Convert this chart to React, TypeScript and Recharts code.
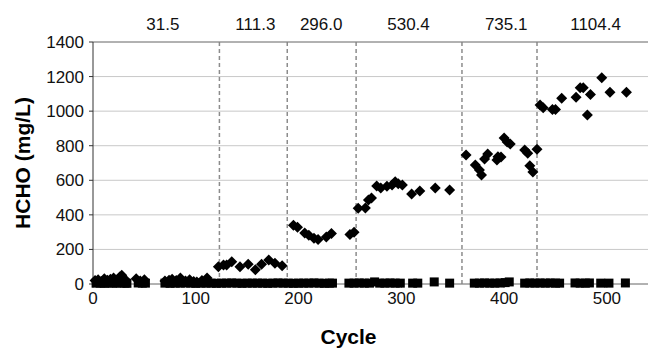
import { CartesianGrid, ReferenceLine, Scatter, ScatterChart, XAxis, YAxis } from 'recharts';

// influent HCHO (diamonds)
const influentCycle = [
  2, 5, 8, 11, 14, 17, 20, 23, 26, 28, 31, 42, 46, 50, 70, 74, 77, 81, 85, 90, 94, 98, 101, 106, 111,
  122, 127, 130, 135, 143, 151, 158, 164, 171, 177, 184,
  195, 199, 206, 210, 215, 219, 227, 232, 250, 254,
  258, 265, 268, 271, 276, 280, 286, 291, 294, 297, 301, 310, 318, 333, 347,
  363, 372, 376, 378, 381, 384, 393, 394, 397, 400, 403, 406, 420, 423, 425, 428, 432,
  435, 438, 447, 450, 456, 470, 474, 477, 481, 484, 495, 503, 519,
];
const influentHCHO = [
  20, 25, 15, 30, 22, 28, 35, 22, 40, 50, 28, 30, 18, 25, 18, 22, 28, 20, 35, 18, 24, 15, 12, 20, 35,
  100, 110, 110, 129, 100, 114, 83, 114, 139, 120, 106,
  340, 328, 295, 282, 265, 258, 272, 292, 287, 300,
  438, 440, 486, 497, 567, 555, 565, 573, 592, 580, 573, 520, 538, 555, 544,
  746, 688, 659, 630, 723, 752, 717, 736, 735, 844, 821, 810, 775, 757, 684, 648, 780,
  1035, 1020, 1010, 1010, 1074, 1080, 1136, 1136, 977, 1097, 1193, 1109, 1109,
];

// effluent HCHO (squares)
const effluentCycle = [
  3, 7, 11, 15, 19, 23, 27, 31, 33, 44, 48, 51,
  70, 75, 80, 85, 90, 95, 100, 105, 110, 115, 120, 125, 130, 135, 140, 145, 150, 155, 160, 165,
  170, 175, 180, 185, 190, 195, 200, 205, 210, 215, 220, 225, 230, 233,
  249, 254, 259, 264, 269, 274, 279, 284, 289, 294, 299, 311, 316, 332, 347,
  371, 376, 381, 386, 391, 396, 401, 405, 420, 425, 430, 435, 440, 445, 450, 454,
  469, 474, 479, 483, 494, 502, 518,
];
const effluentHCHO = [
  5, 5, 4, 6, 5, 5, 6, 5, 4, 6, 5, 5,
  5, 4, 5, 5, 6, 5, 4, 5, 5, 5, 4, 5, 5, 6, 5, 4, 5, 5, 5, 5,
  4, 5, 6, 5, 5, 4, 5, 5, 5, 6, 5, 4, 5, 5,
  5, 5, 6, 5, 5, 12, 5, 5, 6, 5, 5, 5, 5, 12, 5,
  5, 5, 6, 5, 5, 6, 8, 12, 5, 6, 5, 6, 5, 6, 5, 5,
  6, 5, 5, 6, 5, 5, 6,
];

const phaseBounds = [123, 189, 256, 359, 432];
const phaseLabelAt = [68, 158, 222, 307, 402, 489];
const phaseLabels = ['31.5', '111.3', '296.0', '530.4', '735.1', '1104.4'];
const xTicks = [0, 100, 200, 300, 400, 500];
const yTicks = [0, 200, 400, 600, 800, 1000, 1200, 1400];

const influent = influentCycle.map((c, i) => ({ cycle: c, hcho: influentHCHO[i] }));
const effluent = effluentCycle.map((c, i) => ({ cycle: c, hcho: effluentHCHO[i] }));

const font = '"Liberation Sans", Arial, sans-serif';

const Diamond = (props: any) => {
  const { cx, cy } = props;
  const r = 5.5;
  return <path d={`M${cx},${cy - r}L${cx + r},${cy}L${cx},${cy + r}L${cx - r},${cy}Z`} fill="#000" />;
};

const Square = (props: any) => {
  const { cx, cy } = props;
  const h = 4.5;
  return <rect x={cx - h} y={cy - h} width={h * 2} height={h * 2} fill="#000" />;
};

export default function App() {
  return (
    <div style={{ position: 'absolute', left: 0, top: 0, fontFamily: font }}>
      <ScatterChart width={648} height={350} margin={{ top: 12, right: 0, bottom: 0, left: 0 }}>
        <CartesianGrid vertical={false} stroke="#c8c8c8" />
        <XAxis
          dataKey="cycle"
          type="number"
          domain={[0, 540]}
          ticks={xTicks}
          interval={0}
          height={66}
          tickSize={4}
          tickMargin={4}
          stroke="#808080"
          tick={{ fill: '#111', fontSize: 17, fontFamily: font }}
          label={{ value: 'Cycle', position: 'insideBottom', offset: 6, dx: -22, fill: '#000', fontSize: 21, fontWeight: 'bold', fontFamily: font }}
        />
        {/* same scale as the bottom axis, only carries the phase labels */}
        <XAxis
          xAxisId="top"
          orientation="top"
          dataKey="cycle"
          type="number"
          domain={[0, 540]}
          ticks={phaseLabelAt}
          interval={0}
          height={30}
          tickLine={false}
          tickMargin={6}
          stroke="#808080"
          tickFormatter={(v: number) => phaseLabels[phaseLabelAt.indexOf(v)]}
          tick={{ fill: '#111', fontSize: 17, fontFamily: font }}
        />
        <YAxis
          dataKey="hcho"
          type="number"
          domain={[0, 1400]}
          ticks={yTicks}
          interval={0}
          width={93}
          tickSize={4}
          tickMargin={5}
          stroke="#333"
          tick={{ fill: '#111', fontSize: 17, fontFamily: font }}
          label={{ value: 'HCHO (mg/L)', angle: -90, position: 'center', dx: -24, fill: '#000', fontSize: 21, fontWeight: 'bold', fontFamily: font }}
        />
        {phaseBounds.map((b) => (
          <ReferenceLine key={b} x={b} stroke="#8c8c8c" strokeWidth={1.5} strokeDasharray="4 3" />
        ))}
        <Scatter data={effluent} xAxisId="top" shape={Square} isAnimationActive={false} />
        <Scatter data={influent} shape={Diamond} isAnimationActive={false} />
      </ScatterChart>
    </div>
  );
}
